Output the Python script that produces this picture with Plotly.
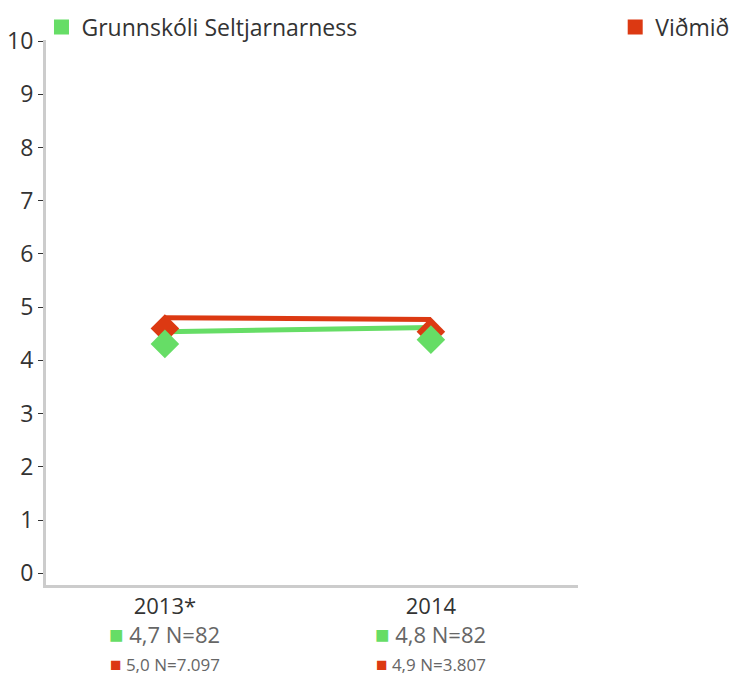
import plotly.graph_objects as go

# chart data
years = ["2013*", "2014"]
school_line = [4.54, 4.62]
norm_line = [4.80, 4.77]
school_points = [4.31, 4.39]
norm_points = [4.60, 4.54]
school_mean = ["4,7", "4,8"]
school_n = ["82", "82"]
norm_mean = ["5,0", "4,9"]
norm_n = ["7.097", "3.807"]
y_ticks = list(range(0, 11))

green = "#66DD66"
red = "#DC3912"
font_family = "'Open Sans', Lato, sans-serif"

fig = go.Figure()

# lines
fig.add_trace(go.Scatter(x=years, y=norm_line, mode="lines",
                         line=dict(color=red, width=5), showlegend=False, hoverinfo="skip"))
fig.add_trace(go.Scatter(x=years, y=school_line, mode="lines",
                         line=dict(color=green, width=5), showlegend=False, hoverinfo="skip"))
# diamonds
fig.add_trace(go.Scatter(x=years, y=norm_points, mode="markers",
                         marker=dict(symbol="diamond", size=22, color=red), showlegend=False))
fig.add_trace(go.Scatter(x=years, y=school_points, mode="markers",
                         marker=dict(symbol="diamond", size=22, color=green), showlegend=False))

# legend entries (two separate legends so they sit far apart)
fig.add_trace(go.Scatter(x=[None], y=[None], mode="markers", name="Grunnskóli Seltjarnarness",
                         marker=dict(symbol="square", size=15, color=green), legend="legend"))
fig.add_trace(go.Scatter(x=[None], y=[None], mode="markers", name="Viðmið",
                         marker=dict(symbol="square", size=15, color=red), legend="legend2"))

# value labels under the categories
for i, yr in enumerate(years):
    fig.add_annotation(x=i, xref="x", y=-0.0885, yref="paper", yanchor="middle",
                       text="<span style='color:%s;font-size:24px'>■</span> %s N=%s" % (green, school_mean[i], school_n[i]),
                       showarrow=False, font=dict(size=22, color="#666666", family=font_family))
    fig.add_annotation(x=i, xref="x", y=-0.145, yref="paper", yanchor="middle",
                       text="<span style='color:%s;font-size:19px'>■</span> %s N=%s" % (red, norm_mean[i], norm_n[i]),
                       showarrow=False, font=dict(size=17, color="#666666", family=font_family))

legend_style = dict(orientation="h", xref="container", yref="container", xanchor="left",
                    yanchor="middle", y=0.9716, font=dict(size=23, color="#333333"),
                    bgcolor="rgba(0,0,0,0)", borderwidth=0)

fig.update_layout(
    width=736, height=670,
    margin=dict(l=38, r=166, t=32, b=93, autoexpand=False),
    plot_bgcolor="white", paper_bgcolor="white",
    font=dict(family=font_family, color="#333333", size=20),
    legend=dict(x=0.0455, **legend_style),
    legend2=dict(x=0.825, **legend_style),
)
fig.update_xaxes(type="category", range=[-0.447, 1.553], showgrid=False,
                 showline=True, linecolor="#CCCCCC", linewidth=3,
                 ticks="", tickfont=dict(size=22, color="#333333"), zeroline=False)
fig.update_yaxes(range=[-0.22, 10.02], tickvals=y_ticks, showgrid=False,
                 showline=True, linecolor="#CCCCCC", linewidth=3,
                 ticks="outside", ticklen=5, tickcolor="#333333", tickwidth=1,
                 tickfont=dict(size=23, color="#333333"), zeroline=False)

fig.write_html("out.html")
